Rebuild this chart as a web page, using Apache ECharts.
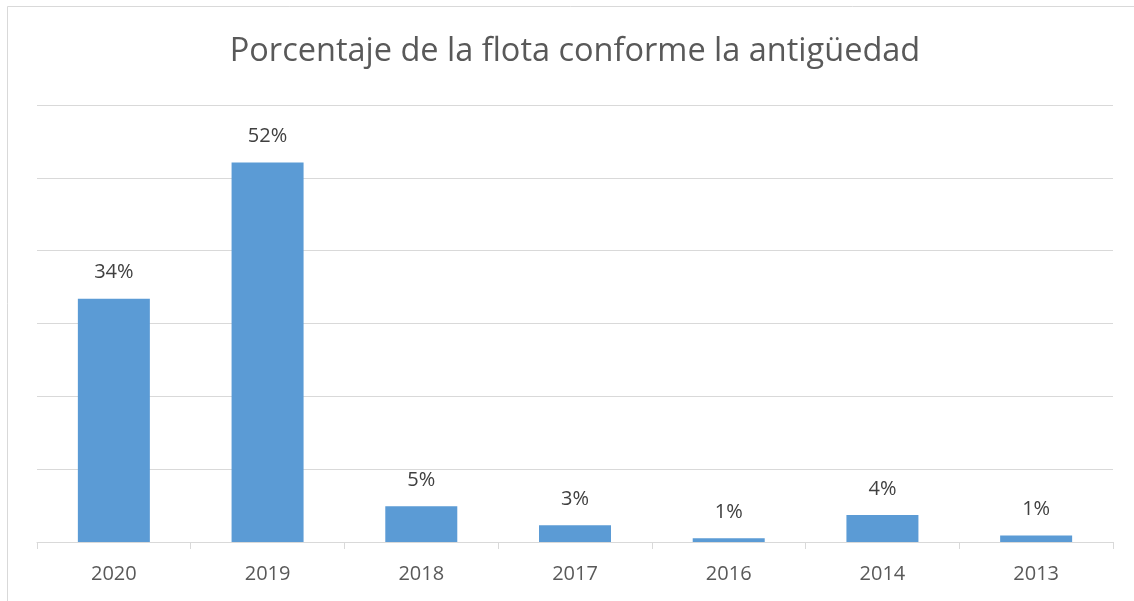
<!DOCTYPE html>
<html>
<head>
<meta charset="utf-8">
<script src="https://cdn.jsdelivr.net/npm/echarts@6/dist/echarts.min.js"></script>
<style>
  html, body { margin: 0; padding: 0; background: #fff; }
  #chart { width: 1134px; height: 601px; }
</style>
</head>
<body>
<div id="chart"></div>
<script>
// datos
let years = ['2020', '2019', '2018', '2017', '2016', '2014', '2013'];
let fleetShare = [33.4, 52.1, 4.9, 2.3, 0.5, 3.7, 0.9];
let shareLabels = ['34%', '52%', '5%', '3%', '1%', '4%', '1%'];

let myChart = echarts.init(document.getElementById('chart'));

let option = {
    backgroundColor: '#fff',
    animation: false,
    title: {
        text: 'Porcentaje de la flota conforme la antigüedad',
        left: 570,
        textAlign: 'center',
        top: 30,
        textStyle: {
            fontFamily: 'Open Sans',
            fontWeight: 'normal',
            fontSize: 32.5,
            color: '#595959'
        }
    },
    grid: {
        left: 37,
        right: 21,
        top: 105,
        bottom: 59
    },
    xAxis: {
        type: 'category',
        data: years,
        axisLine: { lineStyle: { color: '#d9d9d9', width: 1 } },
        axisTick: { show: true, length: 7, lineStyle: { color: '#d9d9d9' } },
        axisLabel: {
            margin: 22,
            fontFamily: 'Open Sans',
            fontSize: 20,
            color: '#595959'
        }
    },
    yAxis: {
        type: 'value',
        min: 0,
        max: 60,
        interval: 10,
        axisLabel: { show: false },
        axisLine: { show: false },
        axisTick: { show: false },
        splitLine: { lineStyle: { color: '#d9d9d9', width: 1 } }
    },
    graphic: [{
        type: 'polyline',
        shape: { points: [[7.5, 601], [7.5, 6.5], [1134, 6.5]] },
        style: { stroke: '#d9d9d9', fill: null, lineWidth: 1 }
    }],
    series: [{
        type: 'bar',
        data: fleetShare,
        barWidth: 72,
        itemStyle: { color: '#5b9bd5' },
        label: {
            show: true,
            position: 'top',
            distance: 16,
            fontFamily: 'Open Sans',
            fontSize: 20,
            color: '#404040',
            formatter: function (p) { return shareLabels[p.dataIndex]; }
        }
    }]
};

myChart.setOption(option);
</script>
</body>
</html>
